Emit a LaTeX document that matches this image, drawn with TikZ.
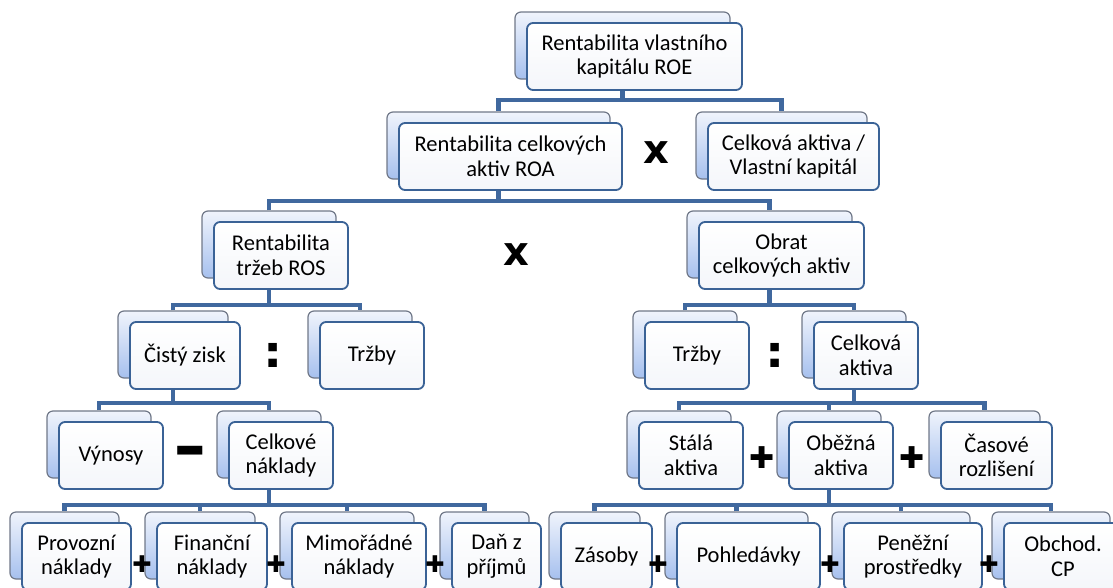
\documentclass[tikz,border=0pt]{standalone}
\usepackage{fontspec}
\setmainfont{Carlito}
\newfontfamily\opfont{DejaVu Sans}
\usetikzlibrary{backgrounds}

\definecolor{linkblue}{RGB}{64,104,158}
\definecolor{frameblue}{RGB}{58,98,150}
\definecolor{backgray}{RGB}{112,120,136}
\definecolor{backtop}{RGB}{240,244,252}
\definecolor{backbot}{RGB}{166,192,238}
\definecolor{frontbot}{RGB}{244,246,250}

% name, left x, top y (of back box), width, text
\newcommand{\stackbox}[5]{%
  \node[backbox, minimum width=#4pt] (#1b) at (#2+#4/2, #3+33.5) {};
  \node[frontbox, minimum width=#4pt] (#1) at (#2+#4/2+12, #3+44.5) {#5};
}

\begin{document}
\begin{tikzpicture}[x=1pt, y=-1pt,
    backbox/.style={draw=backgray, line width=1.2pt, rounded corners=6pt,
      top color=backtop, bottom color=backbot, minimum height=67pt, inner sep=0pt},
    frontbox/.style={draw=frameblue, line width=1.8pt, rounded corners=6pt,
      top color=white, bottom color=frontbot, minimum height=67pt, inner sep=1pt,
      align=center, font=\fontsize{22.5}{24.5}\selectfont},
    link/.style={line width=4.5pt, draw=linkblue},
    op/.style={font=\opfont\bfseries\fontsize{40}{40}\selectfont, inner sep=0pt},
    plusop/.style={font=\opfont\fontsize{30}{30}\selectfont, inner sep=0pt},
    smallop/.style={font=\opfont\fontsize{23}{23}\selectfont, inner sep=0pt}]
  \useasboundingbox (0,0) rectangle (1113,587);
  \clip (0,0) rectangle (1113,587);

  % boxes
  \stackbox{roe}{515}{12}{215}{Rentabilita vlastního\\kapitálu ROE}
  \stackbox{roa}{387}{112}{223}{Rentabilita celkových\\aktiv ROA}
  \stackbox{cavk}{696}{112}{171}{Celková aktiva /\\Vlastní kapitál}
  \stackbox{ros}{202}{211}{134}{Rentabilita\\tržeb ROS}
  \stackbox{obrat}{687}{211}{165}{Obrat\\celkových aktiv}
  \stackbox{zisk}{118}{311}{110}{Čistý zisk}
  \stackbox{trzl}{308}{311}{104}{Tržby}
  \stackbox{trzr}{633}{311}{104}{Tržby}
  \stackbox{aktiva}{802}{311}{104}{Celková\\aktiva}
  \stackbox{vynosy}{47}{411}{104}{Výnosy}
  \stackbox{naklady}{217}{411}{104}{Celkové\\náklady}
  \stackbox{stala}{627}{411}{104}{Stálá\\aktiva}
  \stackbox{obezna}{777}{411}{104}{Oběžná\\aktiva}
  \stackbox{casove}{929}{411}{111}{Časové\\rozlišení}
  \stackbox{provozni}{10}{512}{109}{Provozní\\náklady}
  \stackbox{financni}{145}{512}{110}{Finanční\\náklady}
  \stackbox{mimoradne}{280}{512}{134}{Mimořádné\\náklady}
  \stackbox{dan}{440}{512}{89}{Daň z\\příjmů}
  \stackbox{zasoby}{549}{512}{91}{Zásoby}
  \stackbox{pohledavky}{665}{512}{143}{Pohledávky}
  \stackbox{penezni}{832}{512}{138}{Peněžní\\prostředky}
  \stackbox{obchod}{992}{512}{118}{Obchod.\\CP}

  % operators
  \node[op] (times1) at (656,153) {x};
  \node[op] (times2) at (516,255) {x};
  \node[op] (div1) at (273,355) {\scalebox{1.2}[1.1]{:}};
  \node[op] (div2) at (775,355) {\scalebox{1.2}[1.1]{:}};
  \node[op] (minus1) at (190,460) {\scalebox{1}[1.9]{−}};
  \node[plusop] (plus1) at (762,458) {✚};
  \node[plusop] (plus2) at (912,458) {✚};
  \foreach \px [count=\i] in {142,276,435,658,830,989}
    \node[smallop] (splus\i) at (\px,564) {✚};

  % connectors
  \begin{scope}[on background layer]
    \coordinate (bus1) at (0,100);
    \coordinate (bus2) at (0,201);
    \coordinate (bus3) at (0,305);
    \coordinate (bus4) at (0,403);
    \coordinate (bus5) at (0,505);
    \draw[link] (roeb.south) -- (roeb.south |- bus1);
    \draw[link] (roab.north) |- (bus1 -| cavkb.north) -- (cavkb.north);
    \draw[link] (roab.south) -- (roab.south |- bus2);
    \draw[link] (rosb.north) |- (bus2 -| obratb.north) -- (obratb.north);
    \draw[link] (rosb.south) -- (rosb.south |- bus3);
    \draw[link] (ziskb.north) |- (bus3 -| trzlb.north) -- (trzlb.north);
    \draw[link] (obratb.south) -- (obratb.south |- bus3);
    \draw[link] (trzrb.north) |- (bus3 -| aktivab.north) -- (aktivab.north);
    \draw[link] (ziskb.south) -- (ziskb.south |- bus4);
    \draw[link] (vynosyb.north) |- (bus4 -| nakladyb.north) -- (nakladyb.north);
    \draw[link] (aktivab.south) -- (aktivab.south |- bus4);
    \draw[link] (stalab.north) |- (bus4 -| casoveb.north) -- (casoveb.north);
    \draw[link] (obeznab.north) -- (obeznab.north |- bus4);
    \draw[link] (nakladyb.south) -- (nakladyb.south |- bus5);
    \draw[link] (provoznib.north) |- (bus5 -| danb.north) -- (danb.north);
    \draw[link] (obeznab.south) -- (obeznab.south |- bus5);
    \draw[link] (zasobyb.north) |- (bus5 -| obchodb.north) -- (obchodb.north);
    \foreach \n in {financnib, mimoradneb, pohledavkyb, peneznib}
      \draw[link] (\n.north) -- (\n.north |- bus5);
  \end{scope}
\end{tikzpicture}
\end{document}
